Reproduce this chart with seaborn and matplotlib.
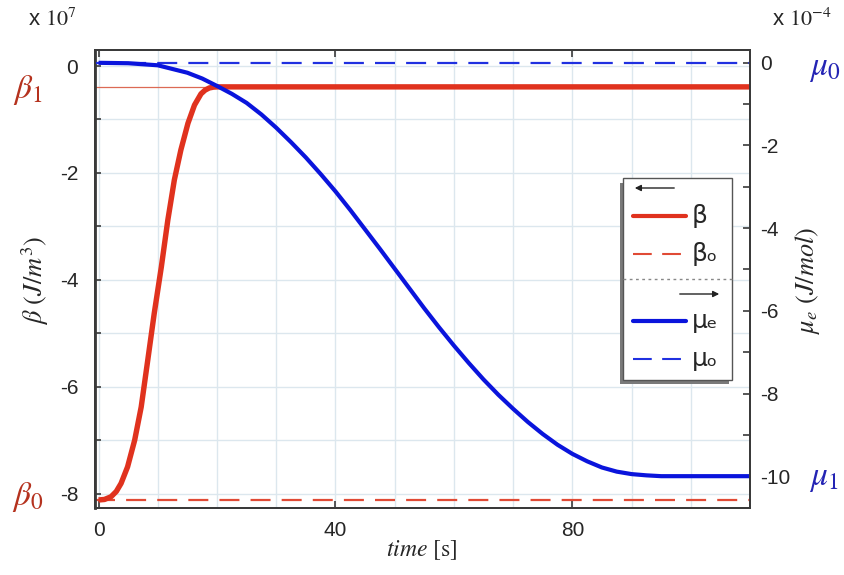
import numpy as np
import pandas as pd
import matplotlib
matplotlib.use("Agg")
import matplotlib.pyplot as plt
from matplotlib.ticker import MultipleLocator
from matplotlib.patches import Rectangle, FancyArrowPatch
from matplotlib.lines import Line2D
import seaborn as sns

# beta, left axis (x 10^7 J/m^3)
beta_time = [0, 1.0, 2.1, 3.0, 3.8, 4.9, 6.1, 7.2, 8.3, 9.4, 10.6, 11.7, 12.8, 13.9,
             15.1, 16.2, 17.3, 18.0, 18.7, 19.4, 20.1, 110]
beta_vals = [-8.12, -8.11, -8.06, -7.96, -7.81, -7.50, -7.00, -6.38, -5.51, -4.63, -3.76,
             -2.88, -2.13, -1.57, -1.07, -0.73, -0.52, -0.45, -0.41, -0.395, -0.39, -0.39]
beta0 = -8.12
beta1 = -0.39
beta_settle = 20.1

# mu_e, right axis (x 10^-4 J/mol)
mu_time = [0, 5, 10, 15, 17.5, 20, 22.5, 25, 27.5, 30, 32.5, 35, 37.5, 40, 42.5, 45,
           47.5, 50, 52.5, 55, 57.5, 60, 62.5, 65, 67.5, 70, 72.5, 75, 77.5, 80, 82.5,
           85, 87.5, 90, 92.5, 95, 110]
mu_vals = [0.0, -0.01, -0.06, -0.24, -0.38, -0.56, -0.75, -0.97, -1.25, -1.57, -1.92,
           -2.29, -2.69, -3.11, -3.56, -4.03, -4.50, -4.98, -5.46, -5.94, -6.40, -6.84,
           -7.26, -7.66, -8.03, -8.37, -8.69, -8.98, -9.24, -9.46, -9.64, -9.79, -9.89,
           -9.95, -9.98, -10.0, -10.0]
mu0 = 0.0
mu1 = -10.0

RED = "#e0321e"
BLUE = "#0a14dc"
W, H = 844, 575


def fx(px):
    return px / W


def fy(py):
    return 1 - py / H


sns.set_theme(style="white")
plt.rcParams["font.family"] = ["Liberation Sans", "DejaVu Sans"]
plt.rcParams["mathtext.fontset"] = "stix"
plt.rcParams["axes.unicode_minus"] = False

fig = plt.figure(figsize=(W / 100, H / 100), dpi=100)
ax = fig.add_axes([fx(95), fy(508), (750 - 95) / W, (508 - 50) / H])
ax2 = ax.twinx()

beta_df = pd.DataFrame({"time": beta_time, "beta": beta_vals})
mu_df = pd.DataFrame({"time": mu_time, "mu": mu_vals})

ax.set_xlim(-0.6, 110)
ax.set_ylim(-8.27, 0.30)
ax2.set_ylim(-10.77, 0.31)

# grid
ax.xaxis.set_major_locator(MultipleLocator(40))
ax.xaxis.set_minor_locator(MultipleLocator(10))
ax.yaxis.set_major_locator(MultipleLocator(2))
ax.yaxis.set_minor_locator(MultipleLocator(1))
ax.grid(which="both", color="#dce7ee", linewidth=1.0)
ax.set_axisbelow(True)

ax.axhline(beta0, color="#e04a35", linewidth=1.6, dashes=(9, 5))
ax.hlines(beta1, -0.6, beta_settle, color="#dc6a55", linewidth=0.9)
sns.lineplot(data=beta_df, x="time", y="beta", ax=ax, color=RED, linewidth=3.9,
             sort=False, solid_capstyle="butt")

ax2.axhline(mu0, color="#2030e0", linewidth=1.6, dashes=(9, 5))
sns.lineplot(data=mu_df, x="time", y="mu", ax=ax2, color=BLUE, linewidth=3.0,
             sort=False, solid_capstyle="butt")

ax2.yaxis.set_major_locator(MultipleLocator(2))
ax2.yaxis.set_minor_locator(MultipleLocator(1))
ax2.grid(False)

for a in (ax, ax2):
    for s in a.spines.values():
        s.set_color("#3a3a3a")
        s.set_linewidth(1.4)
ax.spines["left"].set_linewidth(2.0)

ax.tick_params(axis="x", which="major", direction="in", length=5, width=1.2,
               color="#3a3a3a", top=True, bottom=True, labelsize=15, pad=9)
ax.tick_params(axis="x", which="minor", length=0)
ax.tick_params(axis="y", which="both", direction="in", length=4, width=1.2,
               color="#3a3a3a", left=True, right=False, labelsize=15, pad=12)
ax2.tick_params(axis="y", which="both", direction="in", length=5, width=1.2,
                color="#3a3a3a", right=True, labelsize=15, pad=7)
ax.set_xticks([0, 40, 80])
ax.set_yticks([0, -2, -4, -6, -8])
ax2.set_yticks([0, -2, -4, -6, -8, -10])
ax.set_xlabel("")
ax.set_ylabel("")
ax2.set_ylabel("")

# axis titles
fig.text(fx(422), fy(550), r"$\mathit{time}$ [s]", fontsize=17, family="STIXGeneral",
         ha="center", va="center")
fig.text(fx(35), fy(280), r"$\beta\ (J/m^3)$", fontsize=19, rotation=90,
         ha="center", va="center")
fig.text(fx(808), fy(280), r"$\mu_e\ (J/mol)$", fontsize=19, rotation=90,
         ha="center", va="center")
fig.text(fx(52), fy(20), r"x $10^{7}$", fontsize=16, ha="center", va="center")
fig.text(fx(802), fy(20), r"x $10^{-4}$", fontsize=16, ha="center", va="center")

# level markers
fig.text(fx(28), fy(90), r"$\beta_1$", fontsize=24, color="#b5321e", ha="center", va="center")
fig.text(fx(28), fy(497), r"$\beta_0$", fontsize=24, color="#b5321e", ha="center", va="center")
fig.text(fx(825), fy(68), r"$\mu_0$", fontsize=24, color="#2424b4", ha="center", va="center")
fig.text(fx(824), fy(478), r"$\mu_1$", fontsize=24, color="#2424b4", ha="center", va="center")

# hand-made legend box with shadow
fig.add_artist(Rectangle((fx(620), fy(384)), 109 / W, 201 / H, transform=fig.transFigure,
                         facecolor="#7a7a7a", edgecolor="none", zorder=5))
fig.add_artist(Rectangle((fx(623), fy(380)), 109 / W, 202 / H, transform=fig.transFigure,
                         facecolor="white", edgecolor="#555555", linewidth=1.0, zorder=6))

fig.add_artist(FancyArrowPatch((fx(677), fy(188)), (fx(632), fy(188)), transform=fig.transFigure,
                               arrowstyle="-|>", mutation_scale=9, color="#222222",
                               linewidth=1.0, zorder=7))
fig.add_artist(FancyArrowPatch((fx(677), fy(294)), (fx(722), fy(294)), transform=fig.transFigure,
                               arrowstyle="-|>", mutation_scale=9, color="#222222",
                               linewidth=1.0, zorder=7))
fig.add_artist(Line2D([fx(623), fx(732)], [fy(279), fy(279)], transform=fig.transFigure,
                      color="#888888", linewidth=1.0, dashes=(2, 2.5), zorder=7))

legend_rows = [
    (216, RED, "-", 3.0, "β"),
    (254, "#e04a35", "--", 1.5, "βₒ"),
    (321, BLUE, "-", 3.0, "μₑ"),
    (359, "#2030e0", "--", 1.5, "μₒ"),
]
for py, col, ls, lw, label in legend_rows:
    kw = {"dashes": (9, 5)} if ls == "--" else {}
    fig.add_artist(Line2D([fx(633), fx(686)], [fy(py), fy(py)], transform=fig.transFigure,
                          color=col, linewidth=lw, zorder=7, **kw))
    fig.text(fx(692), fy(py), label, fontsize=18, family="DejaVu Sans", va="center",
             ha="left", zorder=8)

fig.savefig("out.png", dpi=100)
